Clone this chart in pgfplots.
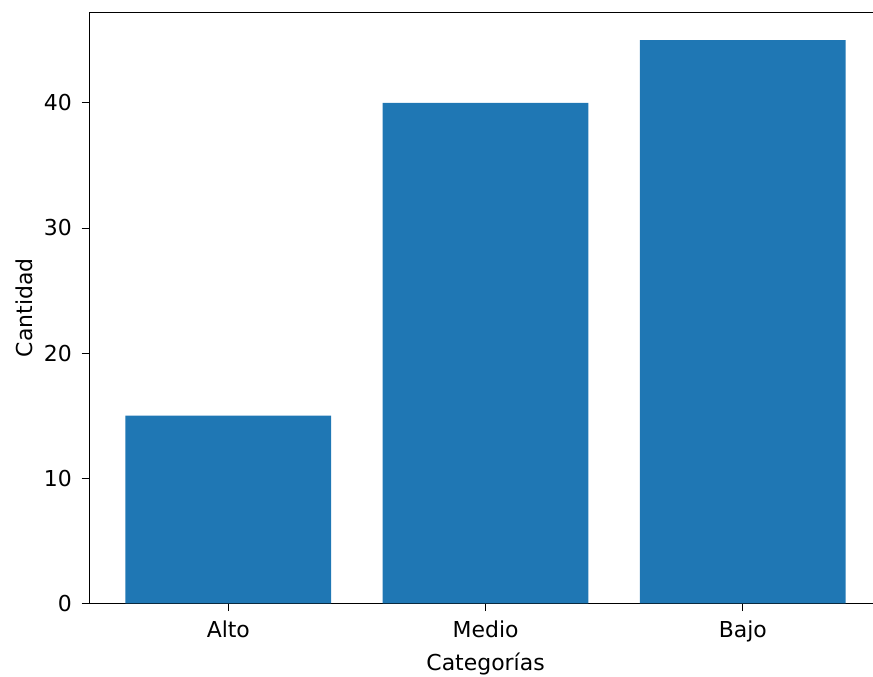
\documentclass[border=0pt]{standalone}
\usepackage{pgfplots}
\pgfplotsset{compat=1.18}
\usepackage{fontspec}
\setmainfont{DejaVu Sans}
\definecolor{mplblue}{HTML}{1F77B4}
\begin{document}
\begin{tikzpicture}
\begin{axis}[
  scale only axis,
  width=361pt, height=269.4pt,
  xmin=-0.54, xmax=2.54,
  ymin=0, ymax=47.25,
  xtick={0,1,2},
  xticklabels={Alto,Medio,Bajo},
  ytick={0,10,20,30,40},
  tick pos=left,
  tick align=outside,
  major tick length=3.5pt,
  every tick/.style={black, line width=0.36pt},
  axis line style={line width=0.36pt},
  /pgf/number format/assume math mode=true,
  tick label style={font=\fontsize{10}{12}\selectfont},
  label style={font=\fontsize{10}{12}\selectfont},
  xlabel={Categorías},
  ylabel={Cantidad},
  xticklabel style={yshift=-1pt},
  yticklabel style={xshift=-1pt},
  xlabel style={yshift=2pt},
  ylabel style={yshift=-2pt},
]
\addplot[ybar, bar width=0.8, fill=mplblue, draw=none] coordinates {(0,15) (1,40) (2,45)};
\end{axis}
\pgfresetboundingbox
\path ([shift={(-40.75pt,-33.3pt)}]current axis.south west) rectangle ([shift={(-3.97pt,5.5pt)}]current axis.north east);
\end{tikzpicture}
\end{document}
